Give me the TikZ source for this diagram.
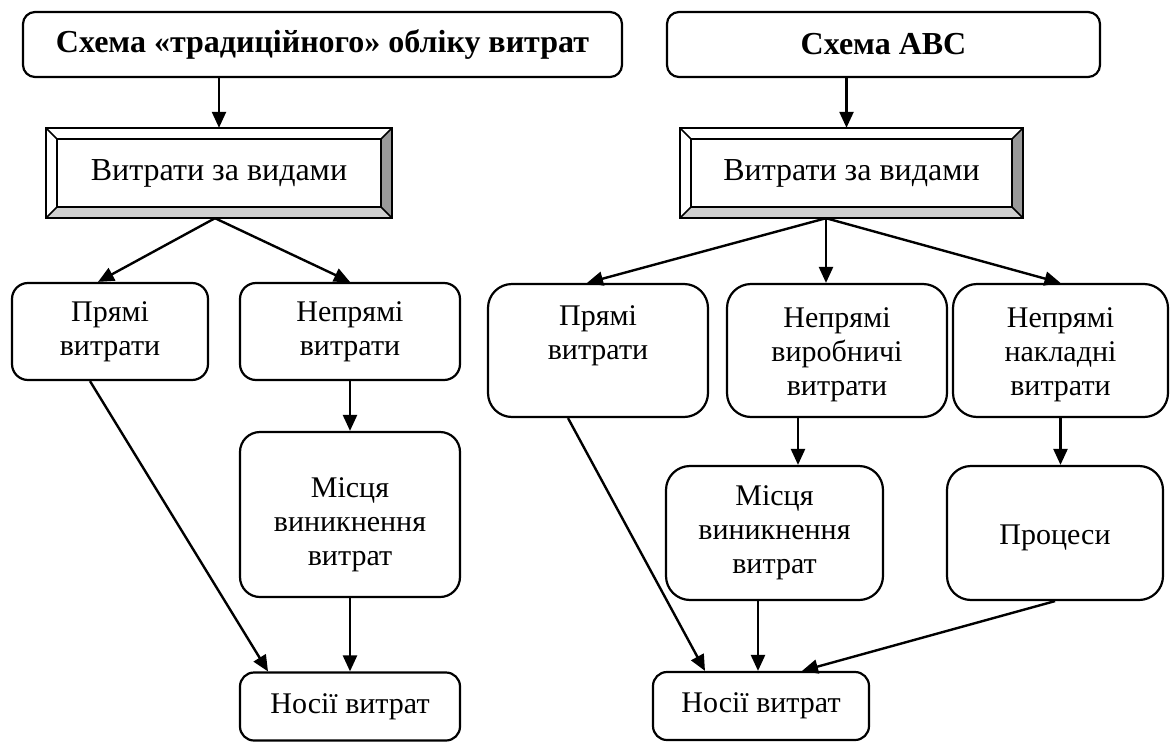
\documentclass[tikz,border=0pt]{standalone}
\usepackage{fontspec}
\setmainfont{Liberation Serif}
\usetikzlibrary{arrows.meta,calc}
\definecolor{bevdark}{HTML}{999999}
\definecolor{bevlight}{HTML}{D0D0D0}
\tikzset{
  body/.style={font=\fontsize{30}{34}\selectfont, align=center},
  big/.style={font=\fontsize{32}{34}\selectfont, align=center},
  box/.style={body, draw, line width=2.2pt, inner sep=0pt},
  titlebox/.style={draw, line width=2.2pt, rounded corners=12pt, inner sep=0pt,
    font=\fontsize{32}{34}\selectfont\bfseries},
  bevelbox/.style={inner sep=0pt},
  link/.style={line width=2.4pt, -{Triangle[length=16pt,width=14pt]}},
}
% bevelled frame drawn around an existing node: light top/left, dark right, grey bottom
\newcommand{\bevelframe}[2]{%
  \fill[white] (#1.north west) -- (#1.north east) -- ($(#1.north east)+(-#2,#2)$) -- ($(#1.north west)+(#2,#2)$) -- cycle;
  \fill[white] (#1.north west) -- (#1.south west) -- ($(#1.south west)+(#2,-#2)$) -- ($(#1.north west)+(#2,#2)$) -- cycle;
  \fill[bevdark] (#1.north east) -- (#1.south east) -- ($(#1.south east)+(-#2,-#2)$) -- ($(#1.north east)+(-#2,#2)$) -- cycle;
  \fill[bevlight] (#1.south west) -- (#1.south east) -- ($(#1.south east)+(-#2,-#2)$) -- ($(#1.south west)+(#2,-#2)$) -- cycle;
  \draw[line width=1.8pt] (#1.north west) rectangle (#1.south east);
  \draw[line width=1.8pt] ($(#1.north west)+(#2,#2)$) rectangle ($(#1.south east)+(-#2,-#2)$);
  \draw[line width=1.5pt] (#1.north west) -- ($(#1.north west)+(#2,#2)$)
    (#1.north east) -- ($(#1.north east)+(-#2,#2)$)
    (#1.south west) -- ($(#1.south west)+(#2,-#2)$)
    (#1.south east) -- ($(#1.south east)+(-#2,-#2)$);
}
\begin{document}
\begin{tikzpicture}[x=1pt,y=-1pt]
\useasboundingbox (0,0) rectangle (1171,742);

% ---------- traditional costing ----------
\node[titlebox, minimum width=599, minimum height=65] (t1) at (322.5,44.5) {Схема «традиційного» обліку витрат};
\node[bevelbox, minimum width=346, minimum height=90] (bv1) at (219,173) {};
\bevelframe{bv1}{11}
\node[big] (bv1text) at (bv1) {Витрати за видами};

\node[box, rounded corners=16pt, minimum width=196, minimum height=97] (p1) at (110,331.5) {Прямі\\витрати};
\node[box, rounded corners=16pt, minimum width=220, minimum height=97] (n1) at (350,331.5) {Непрямі\\витрати};
\node[box, rounded corners=20pt, minimum width=220, minimum height=165,
  label={[body, yshift=-10pt]center:{Місця\\виникнення\\витрат}}] (m1) at (350,514.5) {};
\node[box, rounded corners=14pt, minimum width=220, minimum height=68] (c1) at (350,706.5) {Носії витрат};

\draw[link] (bv1.north |- t1.south) -- (bv1.north);
\draw[link] ([xshift=-4pt]bv1.south) -- ([xshift=-12pt]p1.north);
\draw[link] ([xshift=-4pt]bv1.south) -- (n1.north);
\draw[link] (n1.south) -- (m1.north);
\draw[link] (m1.south) -- (c1.north);
\draw[link] ([xshift=-20pt]p1.south) -- ([xshift=-82pt]c1.north);

% ---------- ABC costing ----------
\node[titlebox, minimum width=433, minimum height=65] (t2) at (883.5,44.5) {Схема АВС};
\node[bevelbox, minimum width=343, minimum height=90] (bv2) at (851.5,173) {};
\bevelframe{bv2}{11}
\node[big] (bv2text) at (bv2) {Витрати за видами};

\node[box, rounded corners=24pt, minimum width=220, minimum height=133,
  label={[body, yshift=-4pt]center:{Прямі\\витрати\\\strut}}] (p2) at (598,350.5) {};
\node[box, rounded corners=24pt, minimum width=220, minimum height=133,
  label={[body, yshift=-4pt]center:{Непрямі\\виробничі\\витрати}}] (n2) at (837,350.5) {};
\node[box, rounded corners=24pt, minimum width=215, minimum height=133,
  label={[body, yshift=-4pt]center:{Непрямі\\накладні\\витрати}}] (h2) at (1060.5,350.5) {};
\node[box, rounded corners=24pt, minimum width=217, minimum height=134] (m2) at (774.5,533) {Місця\\виникнення\\витрат};
\node[box, rounded corners=24pt, minimum width=216, minimum height=134,
  label={[body, yshift=-5pt]center:Процеси}] (pr) at (1055,533) {};
\node[box, rounded corners=14pt, minimum width=216, minimum height=68] (c2) at (761,706) {Носії витрат};

\coordinate (bv2out) at ([xshift=-25.5pt]bv2.south);
\draw[link] ([xshift=-5pt]bv2.north |- t2.south) -- ([xshift=-5pt]bv2.north);
\draw[link] (bv2out) -- ([xshift=-11pt]p2.north);
\draw[link] (bv2out) -- (bv2out |- n2.north);
\draw[link] (bv2out) -- (h2.north);
\draw[link] ([xshift=-39pt]n2.south) -- ([xshift=-39pt]n2.south |- m2.north);
\draw[link] (h2.south) -- (h2.south |- pr.north);
\draw[link] ([xshift=-3pt]c2.north |- m2.south) -- ([xshift=-3pt]c2.north);
\draw[link] ([xshift=-30pt]p2.south) -- ([xshift=-56pt]c2.north);
\draw[link] (pr.south) -- ([xshift=41pt]c2.north);
\end{tikzpicture}
\end{document}
